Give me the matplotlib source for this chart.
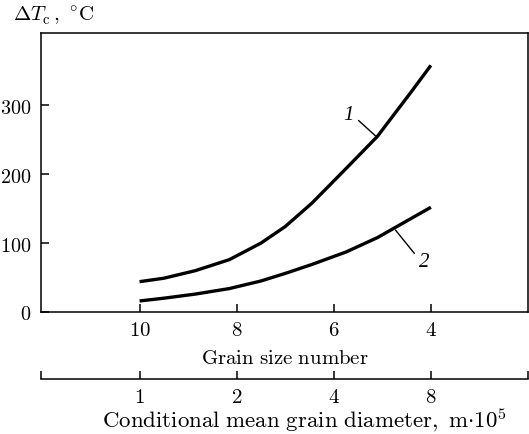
import matplotlib
matplotlib.use("Agg")
import matplotlib.pyplot as plt
from matplotlib.transforms import blended_transform_factory

# Data
grain_number = [10, 9.5, 8.85, 8.15, 7.5, 7.0, 6.45, 5.75, 5.1, 4.4, 4.0]
dT_curve1 = [44, 49, 60, 76, 100, 124, 158, 208, 255, 320, 358]
dT_curve2 = [16, 20, 26, 34, 45, 56, 69, 87, 108, 136, 152]

grain_ticks = [10, 8, 6, 4]
diameter_labels = ["1", "2", "4", "8"]
y_ticks = [0, 100, 200, 300]

plt.rcParams['mathtext.fontset'] = 'cm'
plt.rcParams['font.family'] = ['DejaVu Serif']

fig = plt.figure(figsize=(5.29, 4.35), dpi=100)
ax = fig.add_axes([0.0775, 0.2805, 0.9206, 0.6414])

ax.plot(grain_number, dT_curve1, color='black', linewidth=2.4, solid_capstyle='butt')
ax.plot(grain_number, dT_curve2, color='black', linewidth=2.4, solid_capstyle='butt')

ax.set_xlim(12.03, 2.0)
ax.set_ylim(0, 405)

ax.set_xticks(grain_ticks)
ax.set_xticklabels([f"${g}$" for g in grain_ticks])
ax.set_yticks(y_ticks)
ax.set_yticklabels([f"${v}$" for v in y_ticks])
ax.tick_params(direction='in', length=6, width=1.1, labelsize=15, colors='black')
ax.tick_params(axis='x', pad=6)
ax.tick_params(axis='y', pad=7, labelsize=14.5)
for s in ax.spines.values():
    s.set_linewidth(1.1)

ax.set_xlabel(r"$\mathrm{Grain\ size\ number}$", fontsize=15, labelpad=6)

# curve labels with leader lines
ax.annotate("", xy=(5.10, 253), xytext=(5.49, 278),
            arrowprops=dict(arrowstyle='-', color='black', lw=1.0, shrinkA=0, shrinkB=0))
ax.text(5.69, 287, "1", fontsize=15, fontstyle='italic', family='Liberation Serif',
        ha='center', va='center')
ax.annotate("", xy=(4.73, 119), xytext=(4.34, 85),
            arrowprops=dict(arrowstyle='-', color='black', lw=1.0, shrinkA=0, shrinkB=0))
ax.text(4.13, 73, "2", fontsize=15, fontstyle='italic', family='Liberation Serif',
        ha='center', va='center')

fig.text(0.025, 0.962, r"$\Delta T_{\mathrm{c}}\,,\ {}^{\circ}\mathrm{C}$", fontsize=15,
         ha='left', va='center')

# second scale: conditional mean grain diameter
ax2 = fig.add_axes([0.0775, 0.1264, 0.9206, 0.001])
ax2.patch.set_visible(False)
for side in ['top', 'left', 'right']:
    ax2.spines[side].set_visible(False)
ax2.spines['bottom'].set_linewidth(1.1)
ax2.set_yticks([])
ax2.set_xlim(ax.get_xlim())
ax2.set_xticks([12.03] + grain_ticks + [2.0])
ax2.set_xticklabels([""] + [f"${d}$" for d in diameter_labels] + [""])
ax2.tick_params(axis='x', direction='in', length=6, width=1.1, labelsize=15, pad=6)
ax2.set_xlabel(r"$\mathrm{Conditional\ mean\ grain\ diameter,\ m}{\cdot}10^5$", fontsize=16.5,
               va='baseline')
ax2.xaxis.set_label_coords(0.54, 1 - 428 / 435,
                           transform=blended_transform_factory(ax2.transAxes, fig.transFigure))

fig.savefig("out.png", dpi=100)
